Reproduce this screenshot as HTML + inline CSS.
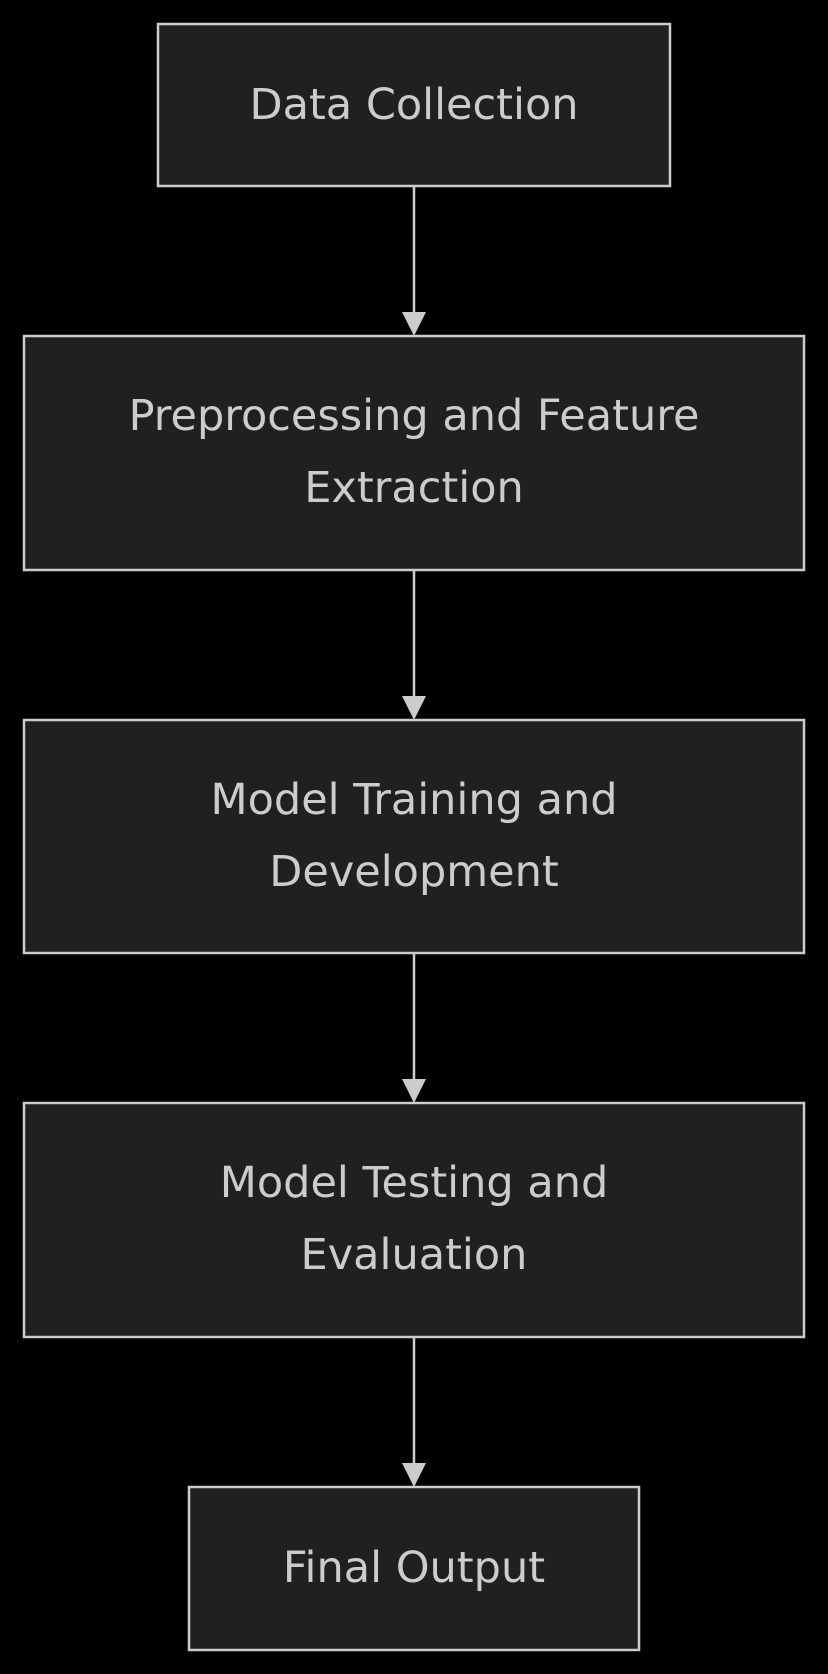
<!DOCTYPE html>
<html><head><meta charset="utf-8"><style>
html,body{margin:0;padding:0;background:#000;}
svg{display:block}
text{font-family:"DejaVu Sans","Liberation Sans",sans-serif;font-size:43px;fill:#cccccc;text-anchor:middle;}
</style></head><body>
<svg width="828" height="1674" viewBox="0 0 828 1674" xmlns="http://www.w3.org/2000/svg">
<g fill="#1f2020" stroke="#cccccc" stroke-width="2.5">
<rect x="158" y="24" width="512" height="162"/>
<rect x="24" y="336" width="780" height="234"/>
<rect x="24" y="720" width="780" height="233"/>
<rect x="24" y="1103" width="780" height="234"/>
<rect x="189" y="1487" width="450" height="163"/>
</g>
<g stroke="#cccccc" stroke-width="2.5">
<line x1="414" y1="186" x2="414" y2="316"/>
<line x1="414" y1="570" x2="414" y2="700"/>
<line x1="414" y1="953" x2="414" y2="1083"/>
<line x1="414" y1="1337" x2="414" y2="1467"/>
</g>
<g fill="#cccccc">
<polygon points="402,312 426,312 414,336"/>
<polygon points="402,696 426,696 414,720"/>
<polygon points="402,1079 426,1079 414,1103"/>
<polygon points="402,1463 426,1463 414,1487"/>
</g>
<text x="414" y="119">Data Collection</text>
<text x="414" y="430">Preprocessing and Feature</text>
<text x="414" y="502">Extraction</text>
<text x="414" y="814">Model Training and</text>
<text x="414" y="886">Development</text>
<text x="414" y="1197">Model Testing and</text>
<text x="414" y="1269">Evaluation</text>
<text x="414" y="1582">Final Output</text>
</svg>
</body></html>
